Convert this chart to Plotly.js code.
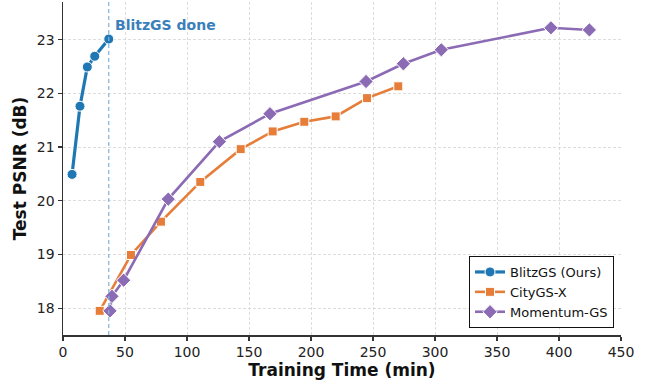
<!DOCTYPE html>
<html>
<head>
<meta charset="utf-8">
<script src="https://cdn.plot.ly/plotly-3.0.1.min.js"></script>
<style>html,body{margin:0;padding:0;background:#fff}#chart{width:652px;height:383px}</style>
</head>
<body>
<div id="chart"></div>
<script>
const blitzTime = [7.3, 13.7, 19.6, 25.6, 36.9];
const blitzPsnr = [20.49, 21.76, 22.49, 22.69, 23.01];
const cityTime = [29.6, 54.8, 79.0, 110.7, 143.3, 169.1, 194.6, 219.9, 245.2, 270.4];
const cityPsnr = [17.95, 18.99, 19.61, 20.35, 20.96, 21.29, 21.47, 21.57, 21.91, 22.13];
const momTime = [37.9, 39.5, 48.9, 84.9, 126.1, 166.9, 244.4, 274.5, 305.1, 393.5, 424.5];
const momPsnr = [17.95, 18.22, 18.52, 20.03, 21.10, 21.62, 22.22, 22.55, 22.81, 23.22, 23.18];
const seriesNames = ["BlitzGS (Ours)", "CityGS-X", "Momentum-GS"];
const blitzDoneTime = 36.9;
const xTicks = [0, 50, 100, 150, 200, 250, 300, 350, 400, 450];
const yTicks = [18, 19, 20, 21, 22, 23];

const font = "DejaVu Sans, sans-serif";
const traces = [
  {x: blitzTime, y: blitzPsnr, name: seriesNames[0], mode: "lines+markers",
   line: {color: "#1f77b4", width: 3.2},
   marker: {symbol: "circle", size: 10, color: "#1f77b4", line: {color: "#fff", width: 1}}},
  {x: cityTime, y: cityPsnr, name: seriesNames[1], mode: "lines+markers",
   line: {color: "#e67e3a", width: 2.6},
   marker: {symbol: "square", size: 9, color: "#e67e3a", line: {color: "#fff", width: 1}}},
  {x: momTime, y: momPsnr, name: seriesNames[2], mode: "lines+markers",
   line: {color: "#8c6bb5", width: 2.6},
   marker: {symbol: "diamond", size: 11, color: "#8c6bb5", line: {color: "#fff", width: 1}}}
];
const axisCommon = {
  showline: true, linecolor: "#333", linewidth: 1.5, mirror: false,
  ticks: "outside", ticklen: 4, tickwidth: 1.2, tickcolor: "#333",
  showgrid: true, gridcolor: "#d4d4d4", gridwidth: 0.8, griddash: "3px,2px",
  zeroline: false, tickfont: {family: font, size: 14, color: "#222"}
};
const layout = {
  width: 652, height: 383,
  margin: {l: 63, r: 31, t: 2, b: 48},
  paper_bgcolor: "#fff", plot_bgcolor: "#fff",
  font: {family: font, color: "#111"},
  xaxis: Object.assign({}, axisCommon, {range: [0, 450], tickvals: xTicks,
    title: {text: "<b>Training Time (min)</b>", font: {family: font, size: 17, color: "#111"}, standoff: 3}}),
  yaxis: Object.assign({}, axisCommon, {range: [17.5, 23.7], tickvals: yTicks,
    title: {text: "<b>Test PSNR (dB)</b>", font: {family: font, size: 17, color: "#111"}, standoff: 6}}),
  shapes: [{type: "line", xref: "x", yref: "paper", x0: blitzDoneTime, x1: blitzDoneTime, y0: 0, y1: 1,
    line: {color: "#7fb3df", width: 1.2, dash: "4px,3px"}}],
  annotations: [{x: blitzDoneTime + 3.3, y: 23.28, xref: "x", yref: "y", xanchor: "left", yanchor: "middle",
    text: "<b>BlitzGS done</b>", showarrow: false, font: {family: font, size: 14, color: "#3b7fba"}}],
  legend: {x: 0.9875, y: 0.021, xanchor: "right", yanchor: "bottom",
    bordercolor: "#111", borderwidth: 1, bgcolor: "#fff",
    font: {family: font, size: 13, color: "#111"}, tracegroupgap: 0, itemwidth: 30},
  showlegend: true
};
Plotly.newPlot("chart", traces, layout, {displayModeBar: false, staticPlot: true});
</script>
</body>
</html>
